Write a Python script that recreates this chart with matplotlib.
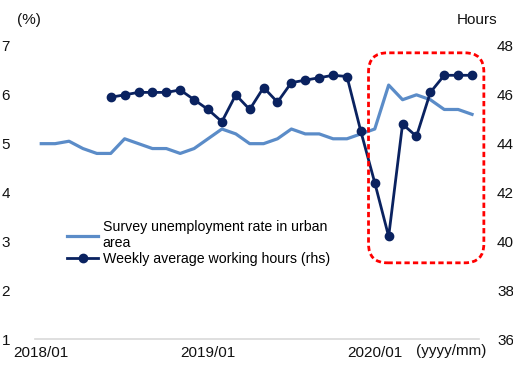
import numpy as np
import matplotlib
matplotlib.use('Agg')
import matplotlib.pyplot as plt
from matplotlib.patches import FancyBboxPatch
from matplotlib.transforms import IdentityTransform

plt.rcParams['font.family'] = ['Liberation Sans', 'DejaVu Sans']

# monthly data, 2018/01 .. 2020/08
months = ['2018/%02d' % m for m in range(1, 13)] + ['2019/%02d' % m for m in range(1, 13)] + ['2020/%02d' % m for m in range(1, 9)]
unemployment = [5.0, 5.0, 5.05, 4.9, 4.8, 4.8, 5.1, 5.0, 4.9, 4.9, 4.8, 4.9,
                5.1, 5.3, 5.2, 5.0, 5.0, 5.1, 5.3, 5.2, 5.2, 5.1, 5.1, 5.2,
                5.3, 6.2, 5.9, 6.0, 5.9, 5.7, 5.7, 5.6]
# working hours start at 2018/06
hours_start = 5
hours = [45.9, 46.0, 46.1, 46.1, 46.1, 46.2, 45.8,
         45.4, 44.9, 46.0, 45.4, 46.3, 45.7, 46.5, 46.6, 46.7, 46.8, 46.75, 44.5,
         42.4, 40.2, 44.8, 44.3, 46.1, 46.8, 46.8, 46.8]
xtick_labels = ['2018/01', '2019/01', '2020/01']

light_blue = '#5B8CC8'
dark_blue = '#0A2260'

x = np.arange(len(months))
xh = np.arange(hours_start, hours_start + len(hours))

fig = plt.figure(figsize=(5.13, 3.65), dpi=100)
ax = fig.add_axes([0.0682, 0.0712, 0.8655, 0.8028])
ax2 = ax.twinx()

l1, = ax.plot(x, unemployment, color=light_blue, lw=2.3, zorder=3,
              label='Survey unemployment rate in urban\narea')
l2, = ax2.plot(xh, hours, color=dark_blue, lw=2.0, marker='o', markersize=6,
               label='Weekly average working hours (rhs)')

ax.set_xlim(-0.45, 31.5)
ax.set_ylim(1, 7)
ax2.set_ylim(36, 48)
ax.set_yticks(range(1, 8))
ax2.set_yticks(range(36, 49, 2))
ax.set_xticks([months.index(t) for t in xtick_labels])
ax.set_xticklabels(xtick_labels)

for a in (ax, ax2):
    for s in a.spines.values():
        s.set_visible(False)
    a.tick_params(length=0, labelsize=11, colors='#111111')
ax.spines['bottom'].set_visible(True)
ax.spines['bottom'].set_color('#D9D9D9')
ax.spines['bottom'].set_linewidth(1.2)
ax.tick_params(axis='y', pad=18)
ax2.tick_params(axis='y', pad=13)
ax.tick_params(axis='x', pad=5)

fig.text(0.033, 0.935, '(%)', fontsize=11, color='#111111')
fig.text(0.89, 0.935, 'Hours', fontsize=11, color='#111111')
fig.text(0.81, 0.028, '(yyyy/mm)', fontsize=11, color='#111111')

ax.legend(handles=[l1, l2], loc='upper left', bbox_to_anchor=(0.06, 0.425),
          frameon=False, fontsize=10.2, handlelength=2.2, handletextpad=0.3,
          labelspacing=0.1, borderaxespad=0)

# red dashed rounded box around 2020 (month index / left-axis units)
fig.canvas.draw()
x0, y0 = ax.transData.transform((23.55, 2.56))
x1, y1 = ax.transData.transform((31.85, 6.86))
r = 19
box = FancyBboxPatch((x0 + r, y0 + r), x1 - x0 - 2 * r, y1 - y0 - 2 * r,
                     boxstyle='round,pad=%d' % r, transform=IdentityTransform(),
                     fill=False, edgecolor='#FF0000', lw=2.0, ls=(0, (1.9, 1.15)),
                     clip_on=False, zorder=5)
fig.add_artist(box)

fig.savefig('out.png', dpi=100)
